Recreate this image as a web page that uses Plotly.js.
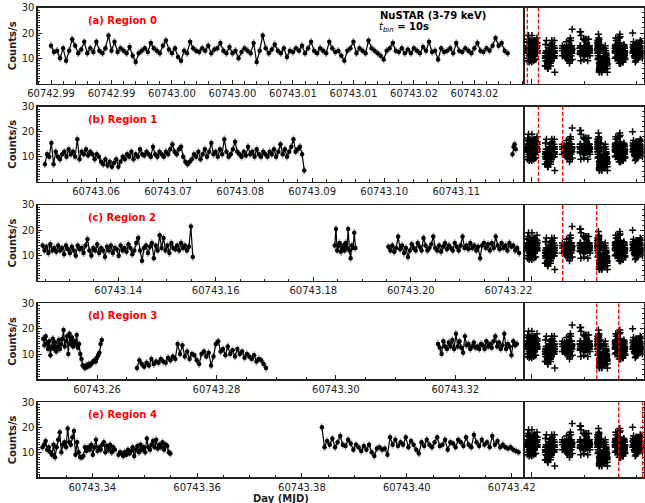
<!DOCTYPE html>
<html><head><meta charset="utf-8">
<script src="https://cdn.plot.ly/plotly-3.0.1.min.js"></script>
<style>html,body{margin:0;padding:0;background:#fff}#chart{width:645px;height:503px}</style>
</head><body><div id="chart"></div>
<script>
// ---------------- DATA (count rate, counts/s; segments of binned light curve) ----------------
// Region 0
const R0A_t0 = 60742.9850, R0A_dt = 0.00025;
const R0A = [15,12.5,13,10,14,9,13,17.5,15,12, 13.5,16.5,12,14,12.5,16.5,13,12,14,19,
 13,16.5,12.5,14,13,12,14.5,11,8.5,12, 13,14,12.5,16,14,13,12,15,17,13.5,
 12,14,10.5,9,13,12,16.5,14,13,12.5, 14,13,15,12,13.5,14,16,13,12,14.5,
 12,13,10,12.5,14,13,12,16,8.5,13, 19,14,12,13.5,15.5,13,12,14,10.5,13,
 12.5,14,13,15,12,14,16.5,13,12,14, 13,12,16.5,14,12.5,13,11,9,13,14,
 16.5,12,14,13,12,17,14,13,12,11, 9.5,13,14,16,13,12.5,14,12,13.5,12,
 14,13,12,14.5,13,16.5,12.5,13,9.5,14, 12.5,13,14,12,16,13,12.5,14,13,12,
 14,16,13,12.5,14,13,15,18,15,16, 13,12];
// Region 1
const R1A_t0 = 60743.0529, R1A_dt = 0.0003;
const R1A = [7,11,10,15.5,7,12,10,9,11,12, 10,13,11,12,10,17,9,12,11,13,
 10.5,12,11,9,11,10,8,7,9,6.5, 8,6,7.5,9,6,8,10,9,11,10,
 12,9,11,10,13,11,10.5,12,11,10, 14,11,10,12,11,10,12,11,13,15,
 12,11,13,14,10,8,7,8,9,11, 10,12,9,11,13,10,12,15.5,11,12,
 10,13,11,17,12,10,11,13,16,12, 11,10,12,10.5,14,11,12,10,13,11,
 10,12,11,10,12,11,13,10,12,15, 11,13,10,12,14,17,12,13,14,11, 4.5];
const R1B_t0 = 60743.1178, R1B_dt = 0.00015;
const R1B = [11,14,15,13];
// Region 2
const R2A_t0 = 60743.1245, R2A_dt = 0.0004;
const R2A = [14,12,13.5,11,14.5,12,13,11.5,14,12, 13,10.5,14,12.5,11,13.5,12,10,14,12.5,
 13,11,14,16.5,12,10,13,12,14.5,11, 13,12,9.5,13.5,12,14,11,13,12.5,10,
 14,12,13,11.5,14.5,13,10.5,12,15,17, 12,8,13,14,11,13.5,15,9,14,12,
 18,13,17,12,14,11,15,13,12.5,14, 12,15,13,14,12,13.5,21.5,9.5];
const R2B_t0 = 60743.1844, R2B_dt = 0.00025;
const R2B = [14,20.5,12,14,15,11.5,13,14,12,15,13,20.5,12,9,14,13,19,13];
const R2C_t0 = 60743.1954, R2C_dt = 0.0004;
const R2C = [13.5,12,14,11.5,13,17.5,12.5,14,11,13, 9.5,12,14.5,13,12,15,13.5,12,17,14,
 12,13,14.5,17.5,13,12,14,11.5,13.5,15, 12.5,14,13,12,15,13.5,12,14,17.5,13,
 14,12.5,15,13,14,12,13.5,9,14,15, 13,14.5,12,15,13,17.5,14,12.5,15,13,
 14,12,15,13.5,14,12,13,11];
// Region 3
const R3A_t0 = 60743.2510, R3A_dt = 0.0002;
const R3A = [16,13.5,17,14,12,15,9.5,13,16,12, 14.5,11,13,15.5,12,14,16,19.5,13,15,
 17,10,18,14,16.5,13,15,14,17.5,12.5, 14,10,8,5.5,5,4.5,5.5,5,6,5.5,
 6,6.5,7,7.5,7,8.5,9.5,10.5,14,15.5];
const R3B_t0 = 60743.2667, R3B_dt = 0.0004;
const R3B = [4.5,7.5,6,5,6.5,5.5,8,6,7,6.5, 8,7,6.5,8.5,7.5,9,8,14,10,13.5,
 9,11,8,10,9.5,7.5,6,10,11,9, 10.5,5.5,9,14,15,11,12,9.5,13,10,
 11.5,9,12,10,11,8.5,10,9,8,9.5, 7,8,7.5,6,4.5];
const R3C_t0 = 60743.3171, R3C_dt = 0.0003;
const R3C = [14,12.5,10,15,13,12,14.5,13,15.5,12, 18,13,15,12.5,10.5,17,13.5,14,12,13,
 14.5,12.5,13,12,14,13.5,12,15,13,14, 12.5,15,17,13,14.5,12,13.5,18,12,14,
 13,9.5,15,13.5,14];
// Region 4
const R4A_t0 = 60743.3305, R4A_dt = 0.0003;
const R4A = [12,13,14.5,11,12,10,9,13,8,12, 15,18,10,13,14,12,19.5,14,13,16,
 18.5,9,14,10,8,8,8.5,12,10.5,12, 11,13,9,12,15,10.5,12,11,13,14,
 10,12.5,11,13,10,12,11];
const R4B_t0 = 60743.3450, R4B_dt = 0.0003;
const R4B = [9,10,9.5,8.5,10,9,11,9.5,10.5,12, 8.5,11,12.5,10,13,11,12,10,15.5,12,
 11,13,14.5,12,15,11.5,13,12,14,11, 13,12.5,10,9.5];
const R4C_t0 = 60743.3838, R4C_dt = 0.0005;
const R4C = [20,12,14.5,13,15.5,12,14,16.5,13,12.5, 15,13.5,11,13,12,10.5,12.5,11,13,10,
 8.5,11.5,12,11,11.5,9,16,13,15,12.5, 14,13,16,12,14.5,13,11,9.5,14,12.5,
 15,13,12,14,16,12.5,13,15,11,14, 13.5,12,15,14,12.5,16,13,12,17,14,
 12.5,15,13,14,12,16.5,13,14.5,12,13, 12,11.5,12,11,10.5,10];

// region boundaries (MJD) shown as dashed lines in the overview panel
const regionEdges = [60742.985, 60743.027, 60743.119, 60743.248, 60743.331, 60743.422];
const regionLabels = ["(a) Region 0", "(b) Region 1", "(c) Region 2", "(d) Region 3", "(e) Region 4"];

// tick labels
const tickVals0 = [60742.985,60742.990,60742.995,60743.000,60743.005,60743.010,60743.015,60743.020];
const tickText0 = ["60742.99","60742.99","60743.00","60743.00","60743.01","60743.01","60743.02","60743.02"];
const tickVals1 = [60743.06,60743.07,60743.08,60743.09,60743.10,60743.11];
const tickText1 = ["60743.06","60743.07","60743.08","60743.09","60743.10","60743.11"];
const tickVals2 = [60743.14,60743.16,60743.18,60743.20,60743.22];
const tickText2 = ["60743.14","60743.16","60743.18","60743.20","60743.22"];
const tickVals3 = [60743.26,60743.28,60743.30,60743.32];
const tickText3 = ["60743.26","60743.28","60743.30","60743.32"];
const tickVals4 = [60743.34,60743.36,60743.38,60743.40,60743.42];
const tickText4 = ["60743.34","60743.36","60743.38","60743.40","60743.42"];
const yTickVals = [10,20,30];

// ---------------- BUILD ----------------
const regionSegs = [
  [[R0A_t0,R0A_dt,R0A]],
  [[R1A_t0,R1A_dt,R1A],[R1B_t0,R1B_dt,R1B]],
  [[R2A_t0,R2A_dt,R2A],[R2B_t0,R2B_dt,R2B],[R2C_t0,R2C_dt,R2C]],
  [[R3A_t0,R3A_dt,R3A],[R3B_t0,R3B_dt,R3B],[R3C_t0,R3C_dt,R3C]],
  [[R4A_t0,R4A_dt,R4A],[R4B_t0,R4B_dt,R4B],[R4C_t0,R4C_dt,R4C]]
];
const leftTicks = [[tickVals0,tickText0],[tickVals1,tickText1],[tickVals2,tickText2],[tickVals3,tickText3],[tickVals4,tickText4]];

const W = 645, H = 503;
const FONT = 'DejaVu Sans';
const INK = '#222';
const rowPx = [[7.7,83.6],[106.7,181.7],[204.9,281],[303.4,379.3],[402.3,477.3]];
const xL0 = 37.7, xSep = 524, xR1 = 643.5;
const leftRanges = [[60742.9839,60743.0241],[60743.0519,60743.1194],[60743.1235,60743.2232],[60743.25007,60743.3315],[60743.32959,60743.42235]];
const minorDt = [0.001,0.002,0.005,0.005,0.005];
const rightRange = [60742.9725, 60743.4251];
const P = px => px / W, Q = py => 1 - py / H;

const segXY = ([t0,dt,vals]) => ({x: vals.map((v,i)=>t0+i*dt), y: vals});
const allX = [], allY = [];
regionSegs.forEach(segs => segs.forEach(s => { const d = segXY(s); allX.push(...d.x); allY.push(...d.y); }));

const data = [];
const layout = {width:W, height:H, margin:{l:0,r:0,t:0,b:0}, showlegend:false,
  paper_bgcolor:'#fff', plot_bgcolor:'#fff', shapes:[], annotations:[], font:{family:FONT, color:INK}};

for (let k=0; k<5; k++) {
  const li = 2*k+1, ri = 2*k+2;
  const lx = li===1 ? 'x' : 'x'+li, ly = li===1 ? 'y' : 'y'+li;
  const rx = 'x'+ri, ry = 'y'+ri;
  const lxk = li===1 ? 'xaxis' : 'xaxis'+li, lyk = li===1 ? 'yaxis' : 'yaxis'+li;
  const ydom = [Q(rowPx[k][1]), Q(rowPx[k][0])];

  regionSegs[k].forEach(s => {
    const d = segXY(s);
    data.push({type:'scatter', mode:'lines+markers', x:d.x, y:d.y, xaxis:lx, yaxis:ly,
      line:{color:'#000', width:1.2}, marker:{color:'#000', size:4.5},
      error_y:{type:'constant', value:1.5, color:'rgba(90,90,90,0.6)', thickness:1.5, width:0},
      hoverinfo:'skip'});
  });
  data.push({type:'scatter', mode:'markers', x:allX, y:allY, xaxis:rx, yaxis:ry,
    marker:{symbol:'cross-thin-open', size:5, color:'#000', line:{color:'#000', width:1.5}}, hoverinfo:'skip'});

  const common = {showgrid:false, zeroline:false, showline:true, linecolor:INK, linewidth:1.3, mirror:true,
    ticks:'inside', tickcolor:INK, tickwidth:1, tickfont:{family:FONT, size:10, color:INK}};
  layout[lxk] = Object.assign({}, common, {domain:[P(xL0), P(xSep)], anchor:ly, range:leftRanges[k],
    tickmode:'array', tickvals:leftTicks[k][0], ticktext:leftTicks[k][1], ticklen:4,
    minor:{tickmode:'linear', tick0:60743, dtick:minorDt[k], ticks:'inside', ticklen:2.5, tickcolor:INK, tickwidth:1}});
  layout[lyk] = Object.assign({}, common, {domain:ydom, anchor:lx, range:[0,30],
    tickmode:'array', tickvals:yTickVals, ticklen:4,
    minor:{tickmode:'linear', tick0:0, dtick:1, ticks:'inside', ticklen:2, tickcolor:INK, tickwidth:1}});
  layout['xaxis'+ri] = Object.assign({}, common, {domain:[P(xSep), P(xR1)], anchor:ry, range:rightRange,
    tickmode:'array', tickvals:[60743.0], ticklen:5, showticklabels:false,
    minor:{tickmode:'array', tickvals:[60743.2,60743.4], ticks:'inside', ticklen:2.5, tickcolor:INK}});
  layout['yaxis'+ri] = Object.assign({}, common, {domain:ydom, anchor:rx, range:[0,30], side:'right',
    tickmode:'linear', tick0:0, dtick:10, ticklen:4, showticklabels:false,
    minor:{tickmode:'linear', tick0:0, dtick:2, ticks:'inside', ticklen:2, tickcolor:INK}});

  [regionEdges[k], regionEdges[k+1]].forEach(e => layout.shapes.push({type:'line', xref:rx, yref:ry+' domain',
    x0:e, x1:e, y0:0, y1:1, line:{color:'#ff0000', width:1.3, dash:'4px,2px'}}));

  layout.annotations.push({text:'<b>'+regionLabels[k]+'</b>', xref:'paper', yref:'paper',
    x:P(86), y:Q(rowPx[k][0]+12.5), xanchor:'left', yanchor:'middle', showarrow:false,
    font:{family:FONT, size:10, color:'#ff0000'}});
  layout.annotations.push({text:'<b>Counts/s</b>', xref:'paper', yref:'paper', textangle:-90,
    x:P(12.5), y:Q((rowPx[k][0]+rowPx[k][1])/2), xanchor:'center', yanchor:'middle', showarrow:false,
    font:{family:FONT, size:10, color:INK}});
}
layout.annotations.push({text:'<b>NuSTAR (3-79 keV)</b>', xref:'paper', yref:'paper', x:P(378), y:Q(15.7),
  xanchor:'left', yanchor:'middle', showarrow:false, font:{family:FONT, size:10, color:'#000'}});
layout.annotations.push({text:'<i>t</i><sub><i>bin</i></sub><b> = 10s</b>', xref:'paper', yref:'paper', x:P(377), y:Q(27),
  xanchor:'left', yanchor:'middle', showarrow:false, font:{family:FONT, size:10, color:'#000'}});
layout.annotations.push({text:'<b>Day (MJD)</b>', xref:'paper', yref:'paper', x:P(281), y:Q(498.5),
  xanchor:'center', yanchor:'middle', showarrow:false, font:{family:FONT, size:10, color:INK}});

Plotly.newPlot('chart', data, layout, {staticPlot:true, displayModeBar:false});
</script></body></html>
